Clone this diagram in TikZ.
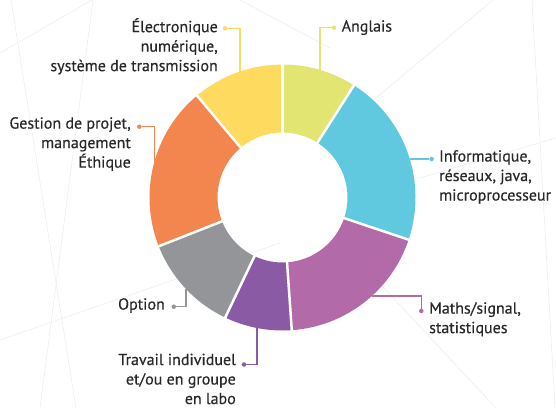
\documentclass[tikz,border=0pt]{standalone}
\usepackage{fontspec}
\setmainfont[FakeBold=0.4]{PT Sans}
\usepackage{tikz}
\definecolor{colAng}{RGB}{227,229,115}
\definecolor{colInfo}{RGB}{96,201,223}
\definecolor{colMath}{RGB}{179,106,168}
\definecolor{colTrav}{RGB}{139,90,165}
\definecolor{colOpt}{RGB}{148,149,153}
\definecolor{colGest}{RGB}{243,134,78}
\definecolor{colElec}{RGB}{254,219,94}
\definecolor{txtgray}{RGB}{40,40,40}
\tikzset{
  lbl/.style={inner sep=0pt, text=txtgray, font=\fontsize{16}{19.5}\selectfont},
  leaddot/.style={circle, fill, inner sep=0pt, minimum size=4.5pt},
  lead/.style={line width=1.2pt},
  bgline/.style={black!7, line width=0.6pt}
}

\begin{document}
\begin{tikzpicture}[x=1pt,y=1pt]
	\useasboundingbox (0,0) rectangle (556,408);
	% faint background lines
	\draw[bgline] (0,355) -- (92,408);
	\draw[bgline] (11,408) -- (76,0);
	\draw[bgline] (93,408) -- (40,0);
	\draw[bgline] (0,68) -- (280,165);
	\draw[bgline] (340,280) -- (493,408);
	\draw[bgline] (532,408) -- (555,0);
	\draw[bgline] (383,121) -- (496,0);
	\draw[bgline] (240,408) -- (330,360);
	\draw[bgline] (420,230) -- (556,270);
	% donut
	\begin{scope}[shift={(282.5,210.5)}]
		\foreach \a/\b/\c in {90/57.5/colAng, 57.5/-18.5/colInfo, -18.5/-86/colMath, -86/-115.5/colTrav, -115.5/-158.5/colOpt, 201.5/130/colGest, 130/90/colElec}
			\fill[\c] (\a:133) arc[start angle=\a, end angle=\b, radius=133] -- (\b:65) arc[start angle=\b, end angle=\a, radius=65] -- cycle;
		\foreach \a in {90,57.5,-18.5,-86,-115.5,201.5,130}
			\draw[white, line width=2.5pt] (\a:64) -- (\a:134);
	\end{scope}
	% leader lines
	\node[leaddot, colAng] (dAng) at (334,380.3) {};
	\coordinate (eAng) at (320,338);
	\draw[lead, colAng] (dAng) -| (eAng);
	\node[leaddot, colElec] (dElec) at (225,379.7) {};
	\coordinate (eElec) at (240,336.5);
	\draw[lead, colElec] (dElec) -| (eElec);
	\node[leaddot, colGest] (dGest) at (139.4,281.3) {};
	\coordinate (eGest) at (154.3,246);
	\draw[lead, colGest] (dGest) -| (eGest);
	\node[leaddot, colInfo] (dInfo) at (431.6,249) {};
	\coordinate (eInfo) at (409.8,249);
	\draw[lead, colInfo] (dInfo) -- (eInfo);
	\node[leaddot, colMath] (dMath) at (421.3,97) {};
	\coordinate (eMath) at (371.9,112);
	\draw[lead, colMath] (dMath) |- (eMath);
	\node[leaddot, colOpt] (dOpt) at (173.8,101.3) {};
	\coordinate (eOpt) at (186,119);
	\draw[lead, colOpt] (dOpt) -| (eOpt);
	\node[leaddot, colTrav] (dTrav) at (244,43.5) {};
	\coordinate (eTrav) at (257,80);
	\draw[lead, colTrav] (dTrav) -| (eTrav);
	% labels
	\node[lbl, anchor=north west, align=left] (ang) at (341.5,388) {Anglais};
	\node[lbl, anchor=north east, align=right] (elec) at (218,390) {Électronique\\numérique,\\système de transmission};
	\node[lbl, anchor=north east, align=right] (gest) at (131,291) {Gestion de projet,\\management\\Éthique};
	\node[lbl, anchor=north west, align=left] (info) at (439,258) {Informatique,\\réseaux, java,\\microprocesseur};
	\node[lbl, anchor=north west, align=left] (math) at (429,106) {Maths/signal,\\statistiques};
	\node[lbl, anchor=north east, align=right] (opt) at (165,110) {Option};
	\node[lbl, anchor=north east, align=right] (trav) at (236,54.5) {Travail individuel\\et/ou en groupe\\en labo};
\end{tikzpicture}
\end{document}
